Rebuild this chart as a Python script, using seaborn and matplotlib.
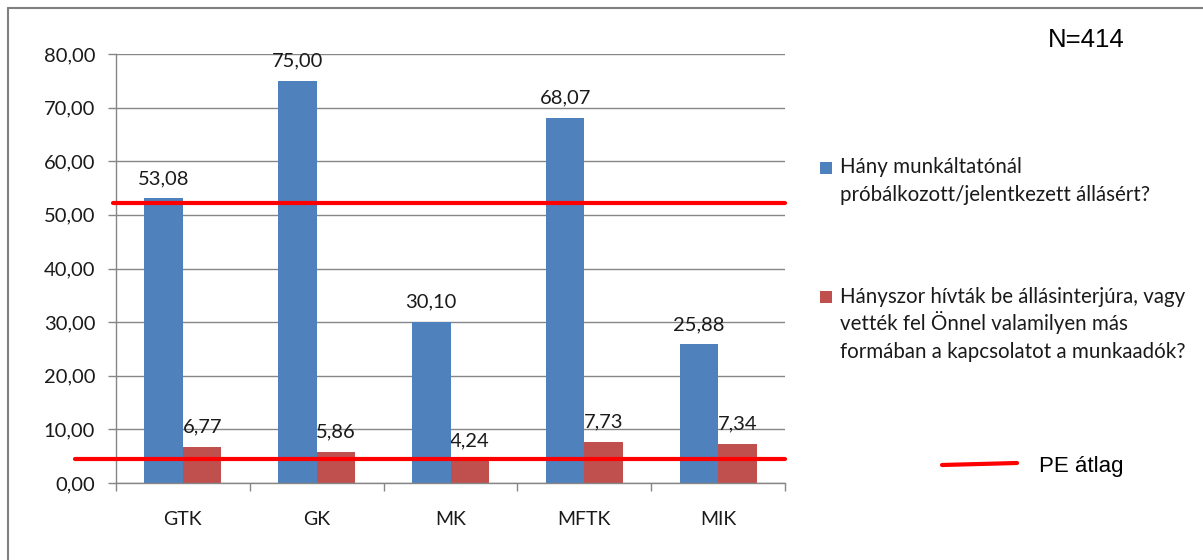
import numpy as np
import pandas as pd
import matplotlib
matplotlib.use("Agg")
import matplotlib.pyplot as plt
import seaborn as sns
from matplotlib.patches import Rectangle
from matplotlib.lines import Line2D
from matplotlib.ticker import FuncFormatter

# ---- data ----
categories = ["GTK", "GK", "MK", "MFTK", "MIK"]
applied = [53.08, 75.00, 30.10, 68.07, 25.88]
invited = [6.77, 5.86, 4.24, 7.73, 7.34]
series_lines = [
    ["Hány munkáltatónál", "próbálkozott/jelentkezett állásért?"],
    ["Hányszor hívták be állásinterjúra, vagy", "vették fel Önnel valamilyen más",
     "formában a kapcsolatot a munkaadók?"],
]
series_names = [" ".join(s) for s in series_lines]
pe_avg = [52.24, 4.48]
y_ticks = [0, 10, 20, 30, 40, 50, 60, 70, 80]
n_label = "N=414"
avg_label = "PE átlag"

BLUE = "#4F81BD"
RED = "#C0504D"
LINE_RED = "#FF0000"
GRAY = "#868686"
TXT = "#1a1a1a"

W, H = 1203, 560

df = pd.DataFrame({
    "cat": categories * 2,
    "value": applied + invited,
    "series": [series_names[0]] * len(categories) + [series_names[1]] * len(categories),
})

sns.set_style("white")
plt.rcParams["font.family"] = ["Lato", "DejaVu Sans"]

fig = plt.figure(figsize=(W / 100, H / 100), dpi=100)
ax = fig.add_axes([116 / W, 1 - 483 / H, 669 / W, 429 / H])

sns.barplot(data=df, x="cat", y="value", hue="series", palette=[BLUE, RED],
            width=0.575, gap=0, saturation=1, legend=False, ax=ax,
            linewidth=0, zorder=2)

def fmt(v):
    return f"{v:.2f}".replace(".", ",")

for cont, vals in zip(ax.containers, [applied, invited]):
    ax.bar_label(cont, labels=[fmt(v) for v in vals], padding=8,
                 fontsize=14.5, color=TXT, zorder=1)

ax.set_ylim(0, 80)
ax.set_yticks(y_ticks)
ax.yaxis.set_major_formatter(FuncFormatter(lambda v, p: fmt(v)))
ax.yaxis.grid(True, color=GRAY, lw=1)
ax.set_axisbelow(True)
ax.set_xlabel("")
ax.set_ylabel("")

ax.tick_params(axis="y", left=True, length=6, width=1, color=GRAY,
               labelsize=14.5, labelcolor=TXT, pad=9)
ax.set_xticks(np.arange(-0.5, len(categories), 1.0), minor=True)
ax.tick_params(axis="x", which="major", bottom=True, length=0, labelsize=14,
               labelcolor=TXT, pad=20)
ax.tick_params(axis="x", which="minor", bottom=True, length=6, width=1, color=GRAY)

sns.despine(ax=ax)
for s in ["left", "bottom"]:
    ax.spines[s].set_color(GRAY)
    ax.spines[s].set_linewidth(1)

# PE average lines
for y, xmin in zip(pe_avg, [-0.0045, -0.061]):
    ax.axhline(y, xmin=xmin, xmax=1, color=LINE_RED, lw=3, clip_on=False, zorder=3)

# figure frame (left and top)
fig.add_artist(Line2D([8 / W, 8 / W], [0, 1 - 8 / H], transform=fig.transFigure,
                      color="#808080", lw=1.5))
fig.add_artist(Line2D([8 / W, 1], [1 - 8 / H, 1 - 8 / H], transform=fig.transFigure,
                      color="#808080", lw=1.5))

# legend (manual)
legend_cfg = [(BLUE, 162, [172.7, 200.7]), (RED, 291, [302.7, 330.5, 358.5])]
for (col, sq_top, baselines), lines in zip(legend_cfg, series_lines):
    fig.add_artist(Rectangle((820 / W, 1 - (sq_top + 12) / H), 12 / W, 12 / H,
                             transform=fig.transFigure, color=col, lw=0))
    for b, t in zip(baselines, lines):
        fig.text(840 / W, 1 - b / H, t, fontsize=14.8, color=TXT, va="baseline", ha="left")

fig.add_artist(Line2D([942 / W, 1017 / W], [1 - 465 / H, 1 - 463 / H],
                      transform=fig.transFigure, color=LINE_RED, lw=3))
fig.text(1039 / W, 1 - 472 / H, avg_label, fontsize=16, color="black",
         family=["Liberation Sans", "DejaVu Sans"], va="baseline", ha="left")
fig.text(1048 / W, 1 - 47 / H, n_label, fontsize=18.5, color="black",
         family=["Liberation Sans", "DejaVu Sans"], va="baseline", ha="left")

fig.savefig("out.png", dpi=100, facecolor="white")
